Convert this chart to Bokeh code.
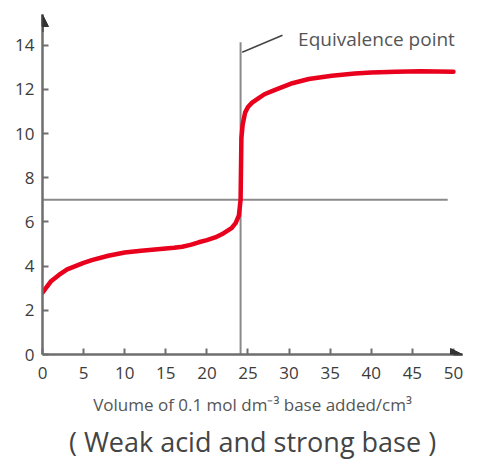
from bokeh.plotting import figure
from bokeh.models import Range1d, FixedTicker, Arrow, NormalHead, Label, Title
from bokeh.embed import file_html
from bokeh.resources import INLINE

# data
volume = [0, 1, 2, 3, 4, 5, 6, 8, 10, 12, 14, 16, 17, 18, 19, 20, 21, 22, 23, 23.5, 23.9,
          24.1, 24.2, 24.35, 24.65, 25, 25.5, 26.3, 27, 28.3, 30.4, 32.4, 35.2, 38, 40, 43, 46, 50]
ph = [2.8, 3.3, 3.6, 3.85, 4.0, 4.15, 4.27, 4.47, 4.62, 4.7, 4.76, 4.83, 4.88, 4.96, 5.08,
      5.18, 5.3, 5.48, 5.72, 5.95, 6.3, 7.0, 9.8, 10.4, 10.95, 11.2, 11.4, 11.6, 11.78,
      11.98, 12.28, 12.47, 12.62, 12.72, 12.76, 12.8, 12.82, 12.8]
x_ticks = [0, 5, 10, 15, 20, 25, 30, 35, 40, 45, 50]
y_ticks = [0, 2, 4, 6, 8, 10, 12, 14]
equivalence_volume = 24.1
neutral_ph = 7

FONT = "Open Sans"
p = figure(width=464, height=450, output_backend="svg", toolbar_location=None,
           x_range=Range1d(0, 51.1), y_range=Range1d(0, 15.39),
           min_border_left=42, min_border_right=2, min_border_top=14, min_border_bottom=0)
p.frame_width = 420
p.frame_height = 340
p.outline_line_color = None
p.xgrid.visible = False
p.ygrid.visible = False

for ax in (p.xaxis[0], p.yaxis[0]):
    ax.axis_line_color = "#6e6e6e"
    ax.axis_line_width = 2.5
    ax.major_tick_line_color = "#6e6e6e"
    ax.major_tick_line_width = 2
    ax.major_tick_in = 6
    ax.major_tick_out = 0
    ax.minor_tick_line_color = None
    ax.major_label_text_font = FONT
    ax.major_label_text_color = "#3c3c3c"
    ax.major_label_text_font_size = "17px"
    ax.major_label_standoff = 8

p.xaxis.major_label_standoff = 12
p.xaxis.ticker = FixedTicker(ticks=x_ticks)
p.yaxis.ticker = FixedTicker(ticks=y_ticks)
p.xaxis.axis_label = "Volume of 0.1 mol dm\u207b\u00b3 base added/cm\u00b3"
p.xaxis.axis_label_text_font = FONT
p.xaxis.axis_label_text_font_style = "normal"
p.xaxis.axis_label_text_font_size = "17px"
p.xaxis.axis_label_text_color = "#555555"
p.xaxis.axis_label_standoff = 11

# reference lines
p.line([0, 49.3], [neutral_ph, neutral_ph], line_color="#8a8a8a", line_width=2)
p.line([equivalence_volume, equivalence_volume], [0, 14.13], line_color="#8a8a8a", line_width=2)

# curve
p.line(volume, ph, line_color="#e8001c", line_width=4.5, line_cap="round", line_join="round")

# annotation
p.line([24.3, 29.2], [13.68, 14.45], line_color="#444444", line_width=1.5)
p.add_layout(Label(x=31.1, y=14.3, text="Equivalence point", text_baseline="middle",
                   text_font=FONT, text_font_size="19px", text_color="#555555"))

# axis arrows
p.add_layout(Arrow(x_start=0, y_start=14.6, x_end=0, y_end=15.39, line_color="#333333",
                   line_width=2, end=NormalHead(size=12, fill_color="#333333", line_color="#333333")))
p.add_layout(Arrow(x_start=50.0, y_start=0, x_end=51.1, y_end=0, line_color="#333333",
                   line_width=2, end=NormalHead(size=12, fill_color="#333333", line_color="#333333")))

p.add_layout(Title(text="( Weak acid and strong base )", align="center", text_font=FONT,
                   text_font_size="27px", text_font_style="normal", text_color="#444444",
                   standoff=4), "below")

open("out.html", "w").write(file_html(p, INLINE))
